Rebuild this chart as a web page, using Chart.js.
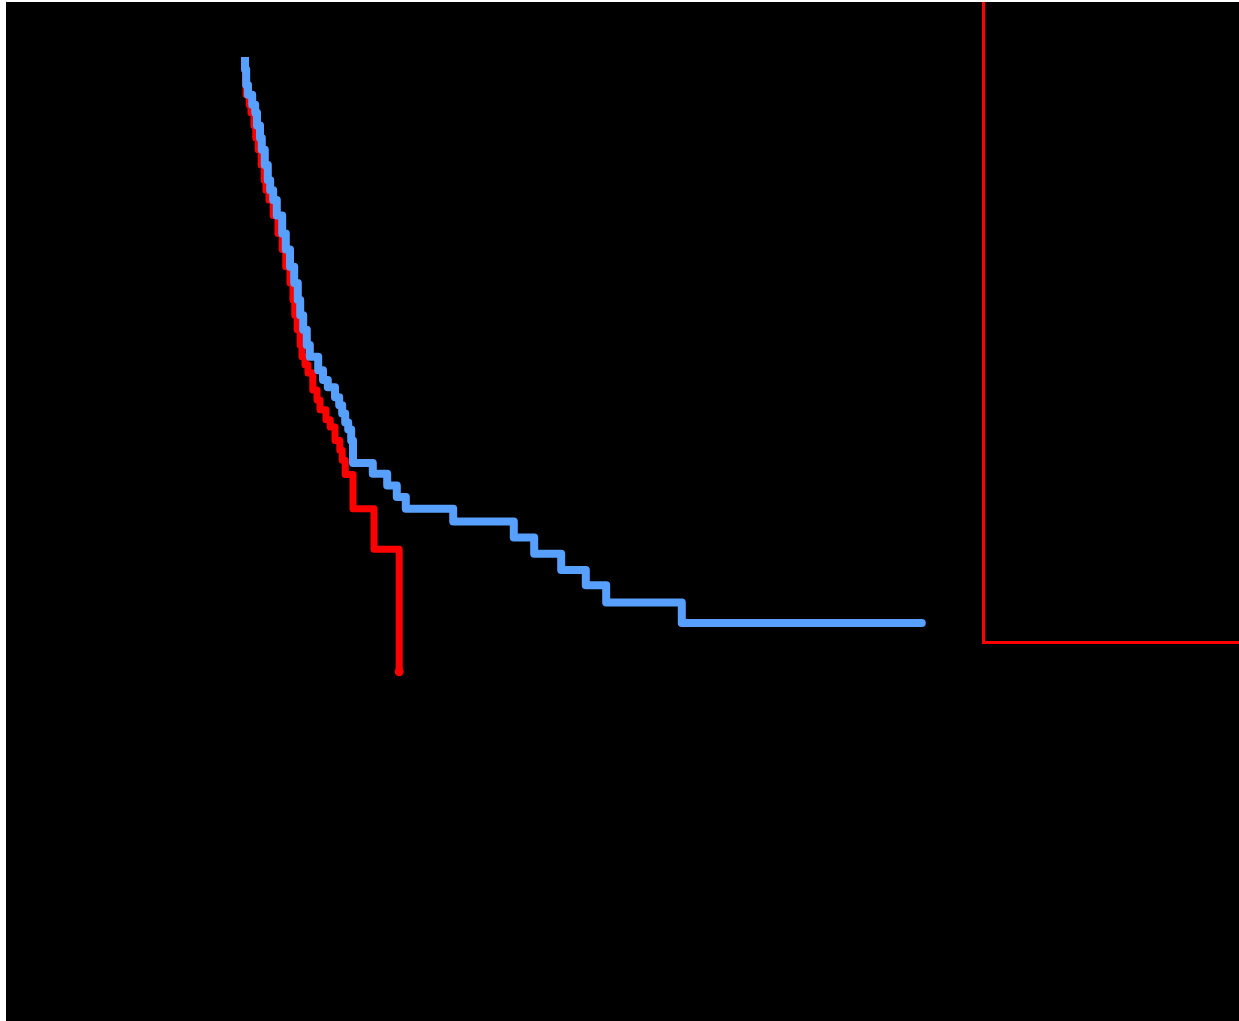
<!DOCTYPE html>
<html>
<head>
<meta charset="utf-8">
<title>Survival curves</title>
<script src="https://cdn.jsdelivr.net/npm/chart.js@4/dist/chart.umd.min.js"></script>
<style>
  html, body { margin: 0; padding: 0; background: #ffffff; }
  #wrap { position: absolute; left: 6px; top: 2px; width: 1233px; height: 1019px; background: #000000; }
  canvas { display: block; }
</style>
</head>
<body>
<div id="wrap"><canvas id="km" width="1233" height="1019"></canvas></div>
<script>
// Follow-up time (months) at each drop, and survival after the drop
const groupBTimes = [0, 0, 0.2, 0.5, 1.2, 1.7, 2.0, 2.5, 2.8, 3.3, 3.8, 4.2, 4.7, 5.3, 6.2, 6.8, 7.5, 8.2, 8.8, 9.2, 9.7, 10.3, 10.8, 12.2, 13.0, 13.8, 15.0, 15.7, 16.2, 16.7, 17.2, 17.7, 18.0, 21.3, 23.7, 25.3, 26.8, 34.7, 44.8, 48.2, 52.7, 56.8, 60.2, 72.8, 112.8];
const groupBSurv  = [1.000, 0.986, 0.969, 0.958, 0.947, 0.938, 0.924, 0.910, 0.897, 0.880, 0.863, 0.852, 0.841, 0.824, 0.804, 0.786, 0.767, 0.749, 0.730, 0.713, 0.697, 0.680, 0.667, 0.652, 0.641, 0.633, 0.622, 0.613, 0.604, 0.594, 0.586, 0.574, 0.549, 0.537, 0.524, 0.511, 0.498, 0.484, 0.466, 0.448, 0.430, 0.413, 0.394, 0.371, 0.371];

const groupATimes = [0, 0, 0.1, 0.2, 0.7, 1.0, 1.5, 1.8, 2.2, 2.7, 3.2, 3.5, 4.0, 4.7, 5.5, 6.2, 6.8, 7.5, 8.0, 8.3, 8.7, 9.2, 9.5, 10.0, 10.5, 11.3, 12.0, 12.5, 13.5, 14.2, 15.0, 15.8, 16.2, 16.7, 18.0, 21.5, 25.7];
const groupASurv  = [1.000, 0.986, 0.969, 0.958, 0.947, 0.938, 0.924, 0.910, 0.897, 0.880, 0.863, 0.852, 0.841, 0.824, 0.804, 0.786, 0.767, 0.749, 0.730, 0.713, 0.697, 0.680, 0.667, 0.658, 0.649, 0.630, 0.619, 0.608, 0.597, 0.589, 0.574, 0.563, 0.552, 0.536, 0.498, 0.453, 0.317];

const groupLabels = ['Group B', 'Group A'];
const groupColors = ['#57a0ff', '#ff0000'];

function toPoints(times, surv) {
  return times.map((t, i) => ({ x: t, y: surv[i] }));
}
function endMarker(n, r) {
  return Array.from({ length: n }, (_, i) => (i === n - 1 ? r : 0));
}

// Black plot background plus the red frame on the right
const backdrop = {
  id: 'backdrop',
  beforeDraw(chart) {
    const ctx = chart.ctx;
    ctx.save();
    ctx.fillStyle = '#000000';
    ctx.fillRect(0, 0, chart.width, chart.height);
    ctx.restore();
  },
  afterDraw(chart) {
    const ctx = chart.ctx;
    ctx.save();
    ctx.strokeStyle = '#ff0000';
    ctx.lineWidth = 3;
    ctx.strokeRect(977.5, -10, 400, 650.5);
    ctx.restore();
  }
};

// Kaplan-Meier style: stay level until the event time, then drop
const stepStyle = 'before';

new Chart(document.getElementById('km'), {
  type: 'line',
  data: {
    datasets: [
      {
        label: groupLabels[0],
        data: toPoints(groupBTimes, groupBSurv),
        borderColor: groupColors[0],
        backgroundColor: groupColors[0],
        borderWidth: 8,
        stepped: stepStyle,
        borderJoinStyle: 'round',
        borderCapStyle: 'butt',
        pointRadius: endMarker(groupBTimes.length, 4),
        pointBorderWidth: 0,
        clip: false,
        fill: false
      },
      {
        label: groupLabels[1],
        data: toPoints(groupATimes, groupASurv),
        borderColor: groupColors[1],
        backgroundColor: groupColors[1],
        borderWidth: 7,
        stepped: stepStyle,
        borderJoinStyle: 'round',
        borderCapStyle: 'butt',
        pointRadius: endMarker(groupATimes.length, 4.5),
        pointBorderWidth: 0,
        clip: false,
        fill: false
      }
    ]
  },
  options: {
    responsive: false,
    animation: false,
    devicePixelRatio: 1,
    layout: { padding: { left: 239, top: 55, right: 274, bottom: 64 } },
    plugins: {
      legend: { display: false },
      tooltip: { enabled: false },
      title: { display: false }
    },
    scales: {
      x: { type: 'linear', min: 0, max: 120, display: false },
      y: { type: 'linear', min: 0, max: 1, display: false }
    }
  },
  plugins: [backdrop]
});
</script>
</body>
</html>
